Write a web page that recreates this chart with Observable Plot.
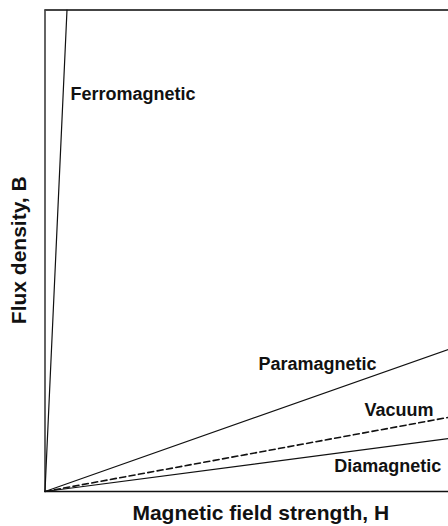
<!DOCTYPE html>
<html>
<head>
<meta charset="utf-8">
<script src="https://cdn.jsdelivr.net/npm/d3@7"></script>
<script src="https://cdn.jsdelivr.net/npm/@observablehq/plot@0.6"></script>
<style>
  html, body { margin: 0; padding: 0; background: #fff; }
  svg { display: block; }
</style>
</head>
<body>
<div id="chart"></div>
<script>
// Series: lines from origin to an end point (H, B)
const seriesNames = ["Ferromagnetic", "Paramagnetic", "Vacuum", "Diamagnetic"];
const endH = [0.545, 10, 10, 10];
const endB = [10, 2.95, 1.54, 1.10];
const dashed = [false, false, true, false];
// Label anchor positions (H, B) for each series
const labelH = [0.63, 5.29, 7.92, 7.17];
const labelB = [8.26, 2.64, 1.68, 0.52];

const xTitle = "Magnetic field strength, H";
const yTitle = "Flux density, B";

const lines = [];
seriesNames.forEach((name, i) => {
  lines.push({name, H: 0, B: 0, dashed: dashed[i]});
  lines.push({name, H: endH[i], B: endB[i], dashed: dashed[i]});
});
const labels = seriesNames.map((name, i) => ({name, H: labelH[i], B: labelB[i]}));

const font = "Liberation Sans, Arial, Helvetica, sans-serif";

const chart = Plot.plot({
  width: 448,
  height: 526,
  marginLeft: 44.5,
  marginTop: 9.5,
  marginBottom: 35,
  marginRight: 0,
  style: {fontFamily: font, background: "#fff"},
  x: {domain: [0, 10], axis: null},
  y: {domain: [0, 10], axis: null},
  marks: [
    Plot.ruleX([0], {stroke: "#111", strokeWidth: 1.3}),
    Plot.ruleY([0], {stroke: "#111", strokeWidth: 1.3}),
    Plot.ruleY([10], {stroke: "#444", strokeWidth: 2}),
    Plot.line(lines.filter(d => !d.dashed), {x: "H", y: "B", z: "name", stroke: "#111", strokeWidth: 1.2}),
    Plot.line(lines.filter(d => d.dashed), {x: "H", y: "B", z: "name", stroke: "#111", strokeWidth: 1.6, strokeDasharray: "6,3.5"}),
    Plot.text(labels, {x: "H", y: "B", text: "name", textAnchor: "start", fontSize: 18, fontWeight: "bold", fill: "#111"}),
    Plot.text([xTitle], {frameAnchor: "bottom", textAnchor: "middle", dy: 28, dx: 14, fontSize: 21, fontWeight: "bold", fill: "#111"}),
    Plot.text([yTitle], {frameAnchor: "left", textAnchor: "middle", dx: -26, dy: -0.5, rotate: -90, fontSize: 21, fontWeight: "bold", fill: "#111"})
  ]
});
document.getElementById("chart").append(chart);
</script>
</body>
</html>
